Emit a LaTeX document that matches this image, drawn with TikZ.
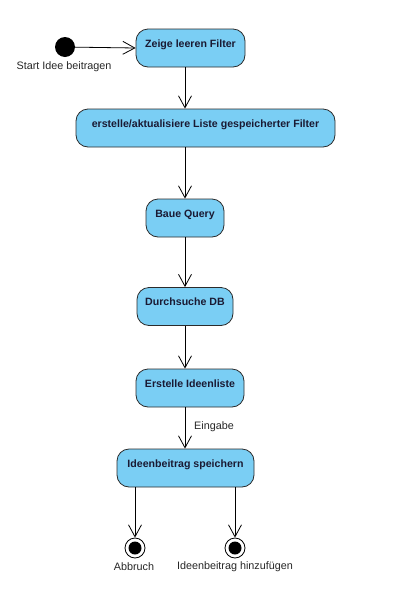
\documentclass[tikz,border=0pt]{standalone}
\usepackage{fontspec}
\setmainfont{Liberation Sans}
\usetikzlibrary{arrows.meta}
\definecolor{boxfill}{HTML}{7ACEF4}
\definecolor{boxdraw}{HTML}{2B2B2B}
\definecolor{boxtext}{HTML}{1A1A33}
\tikzset{
  actbox/.style={draw=boxdraw, line width=0.8pt, fill=boxfill, rounded corners=12pt,
    font=\bfseries\fontsize{10.6}{12}\selectfont, text=boxtext, inner xsep=2pt, inner ysep=4pt,
    text height=14pt, text depth=16pt},
  arr/.style={draw=black, line width=0.8pt, -{Straight Barb[length=12pt,width=13pt,line width=0.8pt]}},
  lbl/.style={font=\fontsize{10.8}{12}\selectfont, text=black!85, inner sep=1pt},
}
\begin{document}
\begin{tikzpicture}[x=1pt,y=-1pt]
\useasboundingbox (0,0) rectangle (409,595);
\coordinate (axis) at (185,0);
\node[circle, fill=black, minimum size=20pt, inner sep=0pt] (start) at (65,47) {};
\node[lbl] (startlbl) at (64,67) {Start Idee beitragen};
\node[actbox, minimum width=109pt] (n1) at (190.5,48) {Zeige leeren Filter};
\node[actbox, minimum width=259pt] (n2) at (205.5,128) {erstelle/aktualisiere Liste gespeicherter Filter};
\node[actbox, minimum width=78pt] (n3) at (185,218) {Baue Query};
\node[actbox, minimum width=96pt] (n4) at (185,306.5) {Durchsuche DB};
\node[actbox, minimum width=108pt] (n5) at (190,388) {Erstelle Ideenliste};
\node[actbox, minimum width=137pt] (n6) at (185.5,468) {Ideenbeitrag speichern};
\node[lbl] (eing) at (214,427) {Eingabe};
\node[circle, draw=black, line width=0.8pt, fill=white, minimum size=20pt, inner sep=0pt] (e1) at (135,548) {};
\node[circle, fill=black, minimum size=13pt, inner sep=0pt] (e1i) at (e1) {};
\node[circle, draw=black, line width=0.8pt, fill=white, minimum size=20pt, inner sep=0pt] (e2) at (235,548) {};
\node[circle, fill=black, minimum size=13pt, inner sep=0pt] (e2i) at (e2) {};
\node[lbl] (e1lbl) at (134,567) {Abbruch};
\node[lbl] (e2lbl) at (235,567) {Ideenbeitrag hinzufügen};
\draw[arr] (start) -- (n1.west);
\draw[arr] (n1.south -| axis) -- (n2.north -| axis);
\draw[arr] (n2.south -| axis) -- (n3.north -| axis);
\draw[arr] (n3.south -| axis) -- (n4.north -| axis);
\draw[arr] (n4.south -| axis) -- (n5.north -| axis);
\draw[arr] (n5.south -| axis) -- (n6.north -| axis);
\draw[arr] (n6.south -| e1) -- (e1.north);
\draw[arr] (n6.south -| e2) -- (e2.north);
\end{tikzpicture}
\end{document}
